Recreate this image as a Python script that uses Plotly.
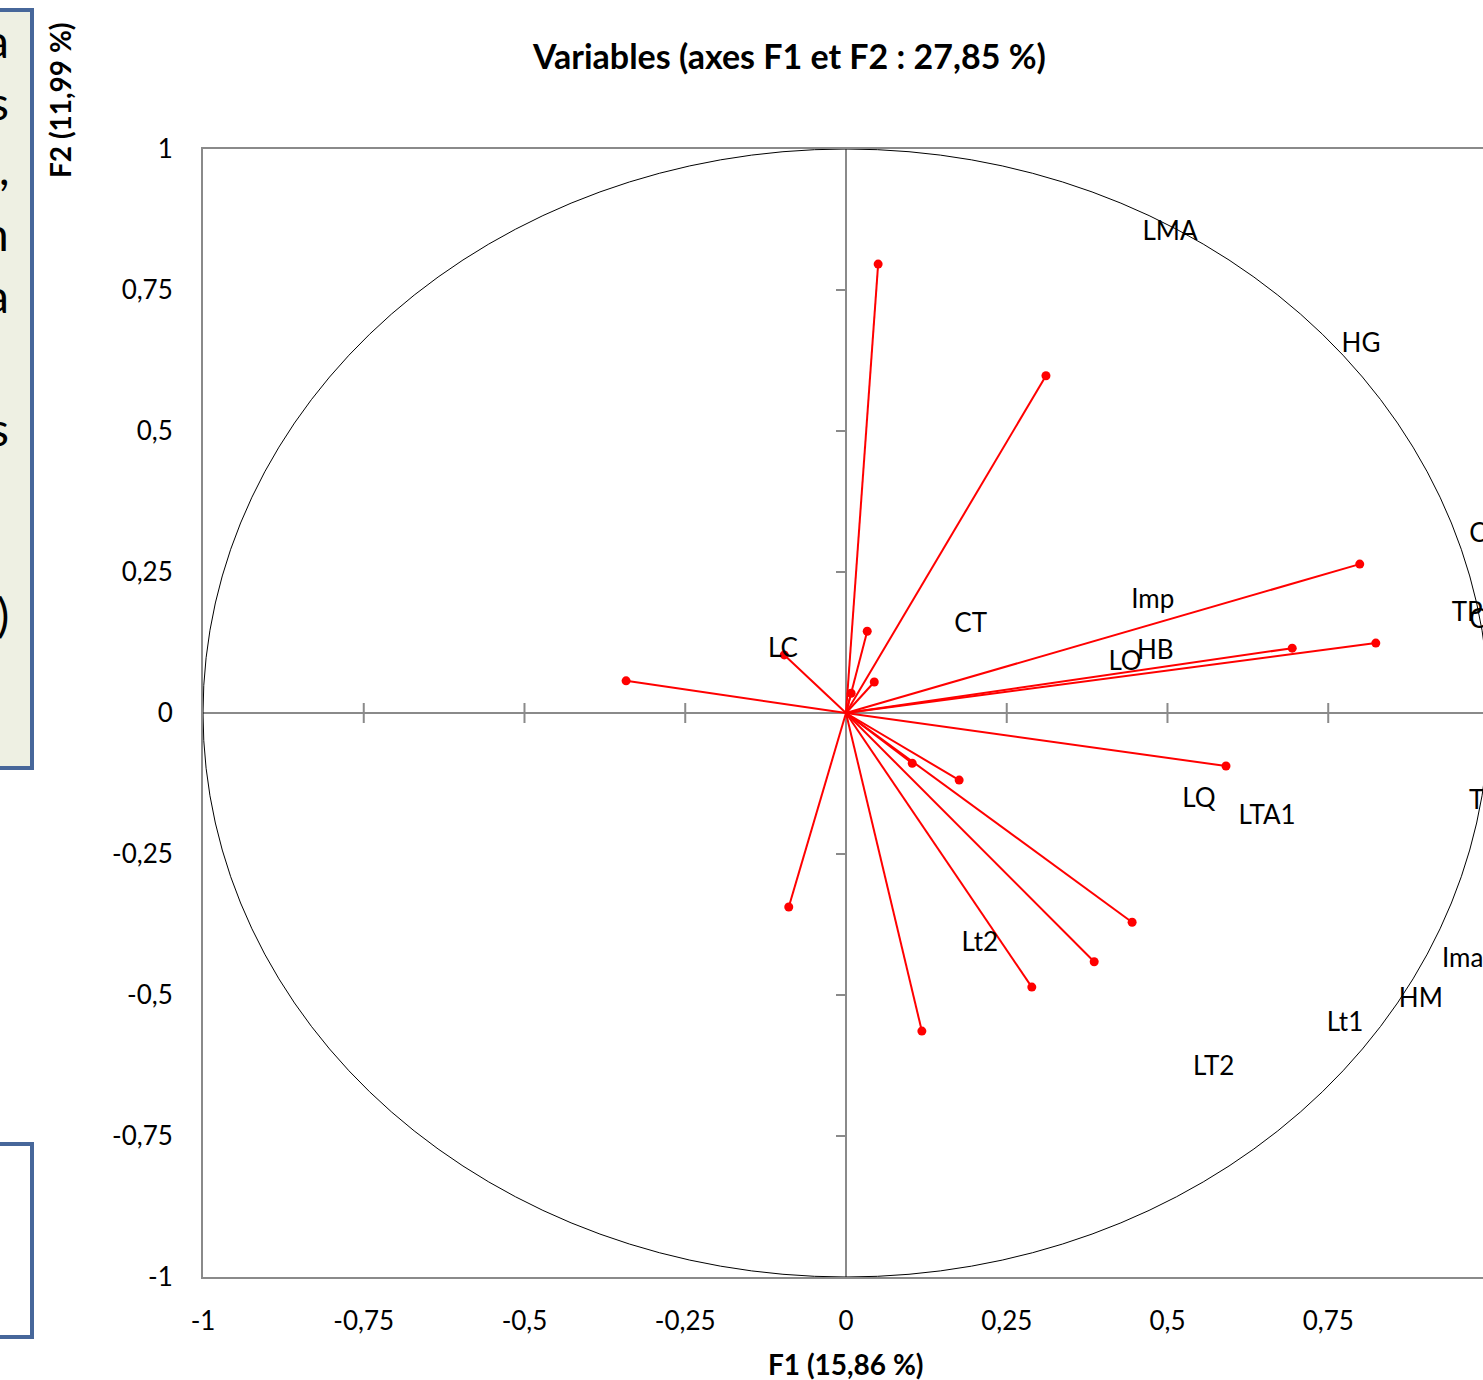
import plotly.graph_objects as go

# ---------------- data ----------------
# coordinates of the variable vectors (F1, F2)
f1_values = [0.050, 0.311, 0.799, 0.824, 0.694, 0.033, 0.044, 0.008,
             -0.096, -0.342, 0.591, 0.176, 0.103, 0.445, 0.386, 0.289,
             0.118, -0.089]
f2_values = [0.796, 0.598, 0.264, 0.124, 0.115, 0.145, 0.055, 0.035,
             0.103, 0.057, -0.094, -0.119, -0.089, -0.371, -0.441, -0.486,
             -0.564, -0.344]

# variable labels and where they appear on the chart
label_names = ["LMA", "HG", "C", "TP", "C", "Imp", "CT", "HB", "LO", "LC",
               "LQ", "LTA1", "T", "Ima", "HM", "Lt1", "LT2", "Lt2"]
label_f1 = [0.504, 0.801, 0.983, 0.966, 0.983, 0.477, 0.194, 0.481, 0.434,
            -0.098, 0.549, 0.655, 0.981, 0.959, 0.894, 0.776, 0.572, 0.208]
label_f2 = [0.850, 0.651, 0.314, 0.174, 0.163, 0.197, 0.155, 0.108, 0.087,
            0.110, -0.156, -0.186, -0.159, -0.438, -0.509, -0.553, -0.631,
            -0.411]

tick_vals = [-1, -0.75, -0.5, -0.25, 0, 0.25, 0.5, 0.75, 1]
tick_text = ["-1", "-0,75", "-0,5", "-0,25", "0", "0,25", "0,5", "0,75", "1"]

title_text = "Variables (axes F1 et F2 : 27,85 %)"
x_title = "F1 (15,86 %)"
y_title = "F2 (11,99 %)"

# fragments of the neighbouring text box (cut by the picture edge)
side_chars = ["a", "s", ",", "n", "a", "s", ")"]
side_char_px_y = [40, 103, 168, 233, 295, 428, 614]

# ---------------- layout helpers ----------------
W, H = 1483, 1380
ML, MR, MT, MB = 203, 0, 149, 103
PW, PH = W - ML - MR, H - MT - MB


def px_x(px):
    return (px - ML) / PW


def px_y(py):
    return (H - MB - py) / PH


FONT = "Lato, 'Open Sans', sans-serif"
GRAY = "#8a8a8a"
RED = "#ff0000"

x_range = [-1, -1 + 1.9907]
y_range = [-1, 1]

fig = go.Figure()

# vectors from the origin
vx, vy = [], []
for a, b in zip(f1_values, f2_values):
    vx += [0, a, None]
    vy += [0, b, None]
fig.add_trace(go.Scatter(x=vx, y=vy, mode="lines",
                         line=dict(color=RED, width=2), hoverinfo="skip",
                         showlegend=False))
fig.add_trace(go.Scatter(x=f1_values, y=f2_values, mode="markers",
                         marker=dict(color=RED, size=9), hoverinfo="skip",
                         showlegend=False))
fig.add_trace(go.Scatter(x=label_f1, y=label_f2, mode="text",
                         text=label_names, textposition="middle center",
                         textfont=dict(family=FONT, size=26, color="black"),
                         cliponaxis=True, hoverinfo="skip", showlegend=False))

# correlation circle
fig.add_shape(type="circle", xref="x", yref="y", x0=-1, y0=-1, x1=1, y1=1,
              line=dict(color="black", width=1), layer="above")

# tick marks on the central axes
dx_px = (x_range[1] - x_range[0]) / PW
dy_px = (y_range[1] - y_range[0]) / PH
for v in tick_vals:
    if v == 0:
        continue
    if x_range[0] < v < x_range[1]:
        fig.add_shape(type="line", xref="x", yref="y", x0=v, x1=v,
                      y0=-10 * dy_px, y1=10 * dy_px,
                      line=dict(color=GRAY, width=2), layer="below")
    if -1 < v < 1:
        fig.add_shape(type="line", xref="x", yref="y", x0=-10 * dx_px, x1=0,
                      y0=v, y1=v, line=dict(color=GRAY, width=2),
                      layer="below")

# side text box fragments
fig.add_shape(type="rect", xref="paper", yref="paper",
              x0=px_x(-10), x1=px_x(32), y0=px_y(768), y1=px_y(10),
              line=dict(color="#47679a", width=4), fillcolor="#eef0e3",
              layer="below")
fig.add_shape(type="rect", xref="paper", yref="paper",
              x0=px_x(-10), x1=px_x(32), y0=px_y(1337), y1=px_y(1144),
              line=dict(color="#47679a", width=4), fillcolor="white",
              layer="below")

annotations = []
for ch, py in zip(side_chars, side_char_px_y):
    annotations.append(dict(text=ch, xref="paper", yref="paper",
                            x=px_x(11), y=px_y(py), xanchor="right",
                            yanchor="middle", showarrow=False,
                            font=dict(family=FONT, size=46, color="black")))

annotations.append(dict(text="<b>" + title_text + "</b>", xref="paper",
                        yref="paper", x=px_x(789), y=px_y(55),
                        xanchor="center", yanchor="middle", showarrow=False,
                        font=dict(family=FONT, size=34, color="black")))
annotations.append(dict(text="<b>" + x_title + "</b>", xref="paper",
                        yref="paper", x=px_x(846), y=px_y(1364),
                        xanchor="center", yanchor="middle", showarrow=False,
                        font=dict(family=FONT, size=28, color="black")))
annotations.append(dict(text="<b>" + y_title + "</b>", xref="paper",
                        yref="paper", x=px_x(60), y=px_y(100),
                        xanchor="center", yanchor="middle", showarrow=False,
                        textangle=-90,
                        font=dict(family=FONT, size=28, color="black")))

fig.update_layout(
    width=W, height=H,
    margin=dict(l=ML, r=MR, t=MT, b=MB, pad=0),
    paper_bgcolor="white", plot_bgcolor="white",
    showlegend=False,
    annotations=annotations,
    font=dict(family=FONT, size=26, color="black"),
)
fig.update_xaxes(range=x_range, tickvals=tick_vals, ticktext=tick_text,
                 showgrid=False, zeroline=True, zerolinecolor=GRAY,
                 zerolinewidth=2, showline=True, mirror=True, linecolor=GRAY,
                 linewidth=2, ticks="", ticklabelstandoff=20,
                 tickfont=dict(family=FONT, size=26, color="black"),
                 fixedrange=True)
fig.update_yaxes(range=y_range, tickvals=tick_vals, ticktext=tick_text,
                 showgrid=False, zeroline=True, zerolinecolor=GRAY,
                 zerolinewidth=2, showline=True, mirror=False, linecolor=GRAY,
                 linewidth=2, ticks="", ticklabelstandoff=23,
                 tickfont=dict(family=FONT, size=26, color="black"),
                 fixedrange=True)

fig.write_html("out.html")
